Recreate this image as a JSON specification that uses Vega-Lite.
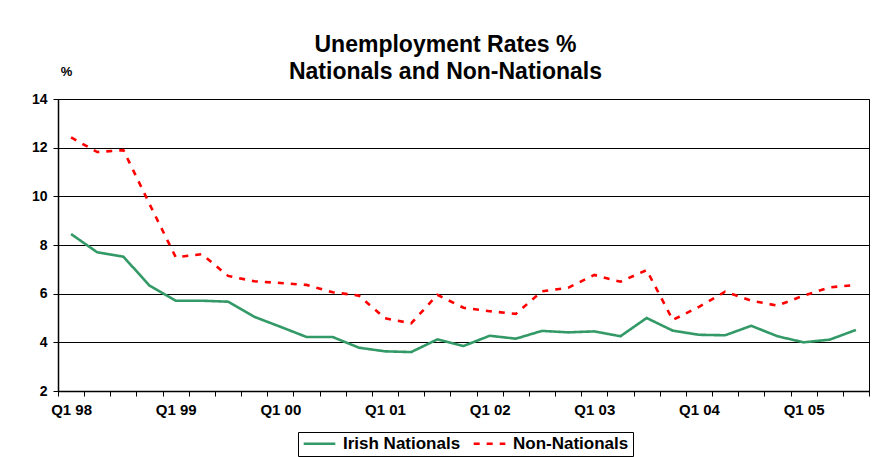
{
  "$schema": "https://vega.github.io/schema/vega-lite/v6.json",
  "autosize": {"type": "none"},
  "width": 811,
  "height": 292,
  "padding": {"left": 58, "top": 99, "right": 8, "bottom": 66},
  "background": "#ffffff",
  "title": {
    "text": ["Unemployment Rates %", "Nationals and Non-Nationals"],
    "fontSize": 23,
    "fontWeight": "bold",
    "font": "Liberation Sans",
    "color": "#000000",
    "lineHeight": 27,
    "anchor": "middle",
    "frame": "group",
    "dx": -18,
    "dy": 37,
    "offset": 18
  },
  "config": {
    "font": "Liberation Sans",
    "view": {"stroke": "#000000", "strokeWidth": 1}
  },
  "data": {
    "values": [
      {"q": "Q1 98", "series": "Irish Nationals", "rate": 8.45},
      {"q": "Q2 98", "series": "Irish Nationals", "rate": 7.70},
      {"q": "Q3 98", "series": "Irish Nationals", "rate": 7.52},
      {"q": "Q4 98", "series": "Irish Nationals", "rate": 6.33},
      {"q": "Q1 99", "series": "Irish Nationals", "rate": 5.71},
      {"q": "Q2 99", "series": "Irish Nationals", "rate": 5.71},
      {"q": "Q3 99", "series": "Irish Nationals", "rate": 5.67},
      {"q": "Q4 99", "series": "Irish Nationals", "rate": 5.05},
      {"q": "Q1 00", "series": "Irish Nationals", "rate": 4.64},
      {"q": "Q2 00", "series": "Irish Nationals", "rate": 4.22},
      {"q": "Q3 00", "series": "Irish Nationals", "rate": 4.22},
      {"q": "Q4 00", "series": "Irish Nationals", "rate": 3.78},
      {"q": "Q1 01", "series": "Irish Nationals", "rate": 3.63},
      {"q": "Q2 01", "series": "Irish Nationals", "rate": 3.60},
      {"q": "Q3 01", "series": "Irish Nationals", "rate": 4.12},
      {"q": "Q4 01", "series": "Irish Nationals", "rate": 3.85},
      {"q": "Q1 02", "series": "Irish Nationals", "rate": 4.27},
      {"q": "Q2 02", "series": "Irish Nationals", "rate": 4.15},
      {"q": "Q3 02", "series": "Irish Nationals", "rate": 4.47},
      {"q": "Q4 02", "series": "Irish Nationals", "rate": 4.41},
      {"q": "Q1 03", "series": "Irish Nationals", "rate": 4.45},
      {"q": "Q2 03", "series": "Irish Nationals", "rate": 4.25},
      {"q": "Q3 03", "series": "Irish Nationals", "rate": 5.00},
      {"q": "Q4 03", "series": "Irish Nationals", "rate": 4.48},
      {"q": "Q1 04", "series": "Irish Nationals", "rate": 4.31},
      {"q": "Q2 04", "series": "Irish Nationals", "rate": 4.29},
      {"q": "Q3 04", "series": "Irish Nationals", "rate": 4.68},
      {"q": "Q4 04", "series": "Irish Nationals", "rate": 4.25},
      {"q": "Q1 05", "series": "Irish Nationals", "rate": 4.00},
      {"q": "Q2 05", "series": "Irish Nationals", "rate": 4.11},
      {"q": "Q3 05", "series": "Irish Nationals", "rate": 4.51},
      {"q": "Q1 98", "series": "Non-Nationals", "rate": 12.42},
      {"q": "Q2 98", "series": "Non-Nationals", "rate": 11.82},
      {"q": "Q3 98", "series": "Non-Nationals", "rate": 11.90},
      {"q": "Q4 98", "series": "Non-Nationals", "rate": 9.68},
      {"q": "Q1 99", "series": "Non-Nationals", "rate": 7.50},
      {"q": "Q2 99", "series": "Non-Nationals", "rate": 7.62},
      {"q": "Q3 99", "series": "Non-Nationals", "rate": 6.73},
      {"q": "Q4 99", "series": "Non-Nationals", "rate": 6.51},
      {"q": "Q1 00", "series": "Non-Nationals", "rate": 6.44},
      {"q": "Q2 00", "series": "Non-Nationals", "rate": 6.36},
      {"q": "Q3 00", "series": "Non-Nationals", "rate": 6.06},
      {"q": "Q4 00", "series": "Non-Nationals", "rate": 5.92},
      {"q": "Q1 01", "series": "Non-Nationals", "rate": 4.99},
      {"q": "Q2 01", "series": "Non-Nationals", "rate": 4.78},
      {"q": "Q3 01", "series": "Non-Nationals", "rate": 5.95},
      {"q": "Q4 01", "series": "Non-Nationals", "rate": 5.42},
      {"q": "Q1 02", "series": "Non-Nationals", "rate": 5.28},
      {"q": "Q2 02", "series": "Non-Nationals", "rate": 5.17},
      {"q": "Q3 02", "series": "Non-Nationals", "rate": 6.10},
      {"q": "Q4 02", "series": "Non-Nationals", "rate": 6.24},
      {"q": "Q1 03", "series": "Non-Nationals", "rate": 6.77},
      {"q": "Q2 03", "series": "Non-Nationals", "rate": 6.49},
      {"q": "Q3 03", "series": "Non-Nationals", "rate": 6.97},
      {"q": "Q4 03", "series": "Non-Nationals", "rate": 4.92},
      {"q": "Q1 04", "series": "Non-Nationals", "rate": 5.46},
      {"q": "Q2 04", "series": "Non-Nationals", "rate": 6.08},
      {"q": "Q3 04", "series": "Non-Nationals", "rate": 5.71},
      {"q": "Q4 04", "series": "Non-Nationals", "rate": 5.51},
      {"q": "Q1 05", "series": "Non-Nationals", "rate": 5.92},
      {"q": "Q2 05", "series": "Non-Nationals", "rate": 6.26},
      {"q": "Q3 05", "series": "Non-Nationals", "rate": 6.36}
    ]
  },
  "mark": {"type": "line", "strokeWidth": 2.6},
  "encoding": {
    "x": {
      "field": "q",
      "type": "nominal",
      "sort": null,
      "scale": {"type": "band", "paddingInner": 0, "paddingOuter": 0},
      "axis": {
        "title": null,
        "labelAngle": 0,
        "labelExpr": "substring(datum.value, 0, 2) === 'Q1' ? datum.value : ''",
        "labelOverlap": false,
        "labelFont": "Liberation Sans",
        "labelFontSize": 15,
        "labelFontWeight": "bold",
        "labelColor": "#000000",
        "labelPadding": 6,
        "tickBand": "extent",
        "ticks": true,
        "tickSize": 5,
        "tickColor": "#000000",
        "tickWidth": 1,
        "domainColor": "#000000",
        "domainWidth": 1.5,
        "grid": false
      }
    },
    "y": {
      "field": "rate",
      "type": "quantitative",
      "scale": {"domain": [2, 14], "nice": false, "zero": false},
      "axis": {
        "values": [2, 4, 6, 8, 10, 12, 14],
        "title": "%",
        "titleAngle": 0,
        "titleX": 8,
        "titleY": -28,
        "titleAlign": "center",
        "titleBaseline": "middle",
        "titleFont": "Liberation Sans",
        "titleFontSize": 13,
        "titleFontWeight": "bold",
        "titleColor": "#000000",
        "labelFont": "Liberation Sans",
        "labelFontSize": 14,
        "labelFontWeight": "bold",
        "labelColor": "#000000",
        "labelPadding": 6,
        "tickSize": 5,
        "tickColor": "#000000",
        "domainColor": "#000000",
        "domainWidth": 1.5,
        "grid": true,
        "gridColor": "#000000",
        "gridWidth": 1
      }
    },
    "color": {
      "field": "series",
      "type": "nominal",
      "scale": {"domain": ["Irish Nationals", "Non-Nationals"], "range": ["#339966", "#ff0000"]},
      "legend": {
        "title": null,
        "orient": "none",
        "legendX": 240,
        "legendY": 333,
        "direction": "horizontal",
        "strokeColor": "#000000",
        "padding": 4,
        "clipHeight": 15,
        "symbolType": "stroke",
        "symbolSize": 1000,
        "symbolStrokeWidth": 2.6,
        "labelFont": "Liberation Sans",
        "labelFontSize": 17,
        "labelFontWeight": "bold",
        "labelColor": "#000000",
        "labelOffset": 6,
        "columnPadding": 11
      }
    },
    "strokeDash": {
      "field": "series",
      "type": "nominal",
      "scale": {"domain": ["Irish Nationals", "Non-Nationals"], "range": [[1, 0], [6, 7]]},
      "legend": {
        "title": null,
        "orient": "none",
        "legendX": 240,
        "legendY": 333,
        "direction": "horizontal",
        "strokeColor": "#000000",
        "padding": 4,
        "clipHeight": 15,
        "symbolType": "stroke",
        "symbolSize": 1000,
        "symbolStrokeWidth": 2.6,
        "labelFont": "Liberation Sans",
        "labelFontSize": 17,
        "labelFontWeight": "bold",
        "labelColor": "#000000",
        "labelOffset": 6,
        "columnPadding": 11
      }
    }
  }
}
